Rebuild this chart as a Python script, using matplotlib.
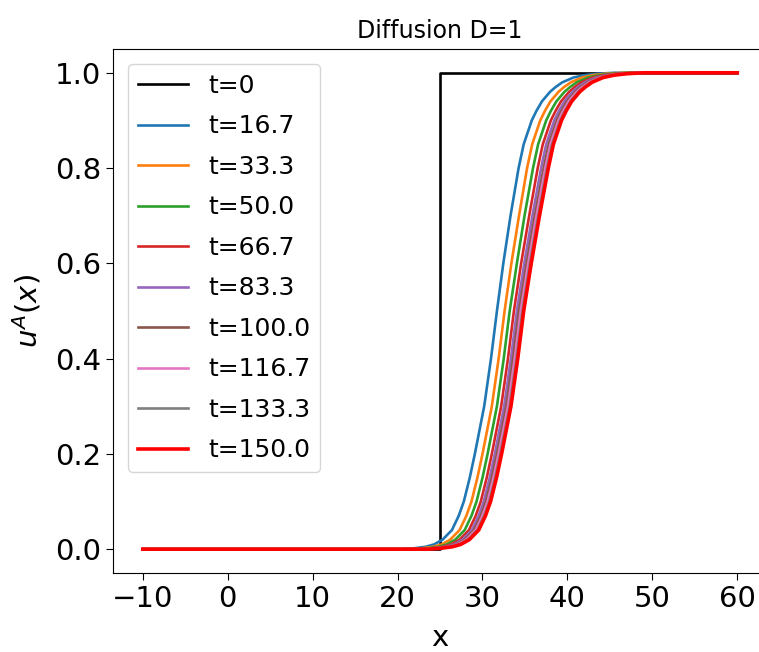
import matplotlib
matplotlib.use("Agg")
import matplotlib.pyplot as plt

u_levels = [0, 0.002, 0.005, 0.01, 0.02, 0.04, 0.07, 0.1, 0.15, 0.2, 0.3, 0.4, 0.5,
            0.6, 0.7, 0.8, 0.85, 0.9, 0.92, 0.94, 0.96, 0.97, 0.98, 0.99, 0.995,
            0.998, 1.0]

x_min, x_max = -10, 60
step_x = 25  # t=0 initial step position

labels = ["t=16.7", "t=33.3", "t=50.0", "t=66.7", "t=83.3",
          "t=100.0", "t=116.7", "t=133.3", "t=150.0"]
colors = ["tab:blue", "tab:orange", "tab:green", "tab:red", "tab:purple",
          "tab:brown", "tab:pink", "tab:gray", "red"]

x_t16 = [20.5, 22.0, 23.3, 24.3, 25.3, 26.4, 27.2, 27.8, 28.5, 29.1, 30.2, 31.0, 31.7,
         32.45, 33.3, 34.25, 34.85, 35.8, 36.35, 37.0, 37.95, 38.6, 39.4, 40.7, 42.0,
         43.5, 45.5]
x_t33 = [21.4, 22.9, 24.2, 25.2, 26.2, 27.3, 28.1, 28.7, 29.4, 30.0, 31.1, 31.9, 32.6,
         33.4, 34.3, 35.25, 35.85, 36.8, 37.35, 38.0, 38.95, 39.6, 40.4, 41.7, 43.0,
         44.5, 46.5]
x_t50 = [22.0, 23.5, 24.8, 25.8, 26.8, 27.9, 28.7, 29.3, 30.0, 30.6, 31.7, 32.5, 33.2,
         34.05, 34.95, 35.95, 36.55, 37.5, 38.05, 38.7, 39.65, 40.3, 41.1, 42.4, 43.7,
         45.2, 47.2]
x_t67 = [22.5, 24.0, 25.3, 26.3, 27.3, 28.4, 29.2, 29.8, 30.5, 31.1, 32.2, 33.0, 33.7,
         34.55, 35.5, 36.5, 37.1, 38.05, 38.6, 39.25, 40.2, 40.85, 41.65, 42.95, 44.25,
         45.75, 47.75]
x_t83 = [22.85, 24.35, 25.65, 26.65, 27.65, 28.75, 29.55, 30.15, 30.85, 31.45, 32.55, 33.35, 34.05,
         34.92, 35.88, 36.9, 37.5, 38.45, 39.0, 39.65, 40.6, 41.25, 42.05, 43.35, 44.65,
         46.15, 48.15]
x_t100 = [23.1, 24.6, 25.9, 26.9, 27.9, 29.0, 29.8, 30.4, 31.1, 31.7, 32.8, 33.6, 34.3,
          35.19, 36.16, 37.2, 37.8, 38.75, 39.3, 39.95, 40.9, 41.55, 42.35, 43.65, 44.95,
          46.45, 48.45]
x_t117 = [23.3, 24.8, 26.1, 27.1, 28.1, 29.2, 30.0, 30.6, 31.3, 31.9, 33.0, 33.8, 34.5,
          35.39, 36.36, 37.4, 38.0, 38.95, 39.5, 40.15, 41.1, 41.75, 42.55, 43.85, 45.15,
          46.65, 48.65]
x_t133 = [23.5, 25.0, 26.3, 27.3, 28.3, 29.4, 30.2, 30.8, 31.5, 32.1, 33.2, 34.0, 34.7,
          35.59, 36.56, 37.6, 38.2, 39.15, 39.7, 40.35, 41.3, 41.95, 42.75, 44.05, 45.35,
          46.85, 48.85]
x_t150 = [23.65, 25.15, 26.45, 27.45, 28.45, 29.55, 30.35, 30.95, 31.65, 32.25, 33.35, 34.15, 34.85,
          35.74, 36.71, 37.75, 38.35, 39.3, 39.85, 40.5, 41.45, 42.1, 42.9, 44.2, 45.5,
          47.0, 49.0]

profiles = [x_t16, x_t33, x_t50, x_t67, x_t83, x_t100, x_t117, x_t133, x_t150]

fig = plt.figure(figsize=(7.59, 6.52), dpi=100)
ax = fig.add_axes([0.1489, 0.1212, 0.8617, 0.8037])

ax.plot([x_min, step_x, step_x, x_max], [0, 0, 1, 1], color="black",
        lw=1.9, label="t=0")
for xs, lab, col in zip(profiles, labels, colors):
    lw = 2.6 if col == "red" else 1.9
    ax.plot([x_min] + xs + [x_max], [0] + u_levels + [1], color=col, lw=lw,
            label=lab, solid_joinstyle="round")

ax.set_xticks([-10, 0, 10, 20, 30, 40, 50, 60])
ax.set_yticks([0.0, 0.2, 0.4, 0.6, 0.8, 1.0])
ax.tick_params(labelsize=21, length=5)
ax.set_xlabel("x", fontsize=21, labelpad=8)
ax.set_ylabel("$u^A(x)$", fontsize=21, labelpad=8)
ax.set_title("Diffusion D=1", fontsize=17, pad=8)
ax.legend(loc="upper left", fontsize=18, handlelength=2.0, labelspacing=0.66,
          borderaxespad=0.6)

fig.savefig("out.png", dpi=100)
